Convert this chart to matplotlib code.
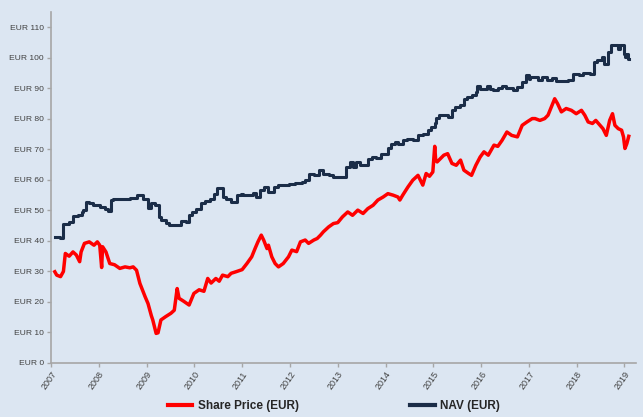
import matplotlib
matplotlib.use("Agg")
import matplotlib.pyplot as plt
from matplotlib import font_manager

# ---------------- data ----------------
nav_dates = [2007.08, 2007.18, 2007.25, 2007.38, 2007.46, 2007.56, 2007.64, 2007.68, 2007.73, 2007.80,
             2007.88, 2008.03, 2008.12, 2008.20, 2008.25, 2008.30, 2008.65, 2008.79, 2008.93, 2009.03,
             2009.09, 2009.18, 2009.25, 2009.30, 2009.40, 2009.47, 2009.72, 2009.82, 2009.89, 2009.96,
             2010.03, 2010.14, 2010.22, 2010.33, 2010.41, 2010.48, 2010.59, 2010.67, 2010.77, 2010.90,
             2010.97, 2011.02, 2011.22, 2011.30, 2011.37, 2011.45, 2011.55, 2011.66, 2011.75, 2011.97,
             2012.10, 2012.25, 2012.32, 2012.39, 2012.50, 2012.61, 2012.70, 2012.81, 2012.90, 2013.17,
             2013.25, 2013.31, 2013.38, 2013.46, 2013.63, 2013.72, 2013.80, 2013.90, 2014.05, 2014.11,
             2014.20, 2014.27, 2014.36, 2014.45, 2014.57, 2014.68, 2014.78, 2014.89, 2014.96, 2015.03,
             2015.06, 2015.12, 2015.30, 2015.39, 2015.45, 2015.55, 2015.64, 2015.70, 2015.81, 2015.89,
             2015.92, 2015.98, 2016.12, 2016.18, 2016.25, 2016.36, 2016.43, 2016.53, 2016.66, 2016.76,
             2016.85, 2016.93, 2017.00, 2017.02, 2017.19, 2017.27, 2017.38, 2017.48, 2017.57, 2017.82,
             2017.92, 2018.05, 2018.13, 2018.28, 2018.37, 2018.43, 2018.52, 2018.58, 2018.65, 2018.72,
             2018.86, 2018.90, 2018.98, 2019.02, 2019.05, 2019.08, 2019.10]
nav_values = [41.2, 40.9, 45.7, 46.2, 48.1, 48.4, 49.5, 50.1, 52.8, 52.3,
              51.7, 51.2, 50.6, 49.9, 53.4, 53.7, 54.2, 55.0, 53.9, 50.7,
              52.5, 51.7, 47.9, 46.8, 45.9, 45.2, 46.6, 46.2, 48.4, 49.5,
              50.6, 52.5, 53.1, 53.9, 55.5, 57.2, 54.4, 53.9, 52.8, 55.0,
              55.3, 55.0, 55.7, 54.4, 56.6, 57.7, 56.1, 57.7, 58.3, 58.8,
              59.0, 59.3, 59.9, 62.1, 61.5, 63.2, 62.1, 61.5, 61.0, 64.3,
              65.9, 64.3, 65.9, 65.0, 67.0, 67.5, 67.2, 68.6, 70.3, 71.9,
              72.5, 71.9, 73.0, 73.5, 73.2, 74.6, 75.2, 76.3, 77.4, 78.5,
              80.4, 81.2, 80.6, 82.8, 83.9, 84.7, 86.6, 87.2, 87.7, 88.8,
              90.8, 89.9, 90.8, 89.8, 89.4, 90.0, 90.8, 90.2, 89.6, 90.5,
              92.1, 94.3, 93.2, 93.7, 92.9, 93.7, 92.9, 93.5, 92.4, 92.9,
              94.6, 94.3, 95.0, 94.8, 98.6, 99.2, 100.3, 98.1, 102.0, 104.1,
              103.0, 104.1, 101.4, 100.3, 101.4, 99.5, 99.5]

sp_dates = [2007.08, 2007.12, 2007.20, 2007.26, 2007.30, 2007.38, 2007.46, 2007.53, 2007.60, 2007.63,
            2007.70, 2007.80, 2007.90, 2007.97, 2008.02, 2008.06, 2008.08, 2008.15, 2008.23, 2008.33,
            2008.44, 2008.55, 2008.65, 2008.72, 2008.79, 2008.86, 2008.97, 2009.03, 2009.10, 2009.13,
            2009.20, 2009.24, 2009.30, 2009.40, 2009.51, 2009.58, 2009.64, 2009.68, 2009.78, 2009.89,
            2009.99, 2010.10, 2010.20, 2010.28, 2010.35, 2010.45, 2010.52, 2010.59, 2010.70, 2010.77,
            2010.87, 2011.00, 2011.10, 2011.20, 2011.27, 2011.33, 2011.40, 2011.45, 2011.52, 2011.55,
            2011.62, 2011.69, 2011.76, 2011.86, 2011.97, 2012.04, 2012.14, 2012.22, 2012.32, 2012.39,
            2012.50, 2012.57, 2012.64, 2012.70, 2012.81, 2012.91, 2013.00, 2013.10, 2013.21, 2013.31,
            2013.42, 2013.53, 2013.63, 2013.74, 2013.84, 2013.95, 2014.05, 2014.16, 2014.26, 2014.30,
            2014.36, 2014.47, 2014.57, 2014.68, 2014.78, 2014.85, 2014.92, 2014.99, 2015.03, 2015.05,
            2015.08, 2015.15, 2015.22, 2015.30, 2015.39, 2015.48, 2015.57, 2015.64, 2015.74, 2015.80,
            2015.89, 2015.98, 2016.06, 2016.15, 2016.27, 2016.35, 2016.44, 2016.54, 2016.64, 2016.76,
            2016.86, 2016.96, 2017.07, 2017.13, 2017.23, 2017.33, 2017.40, 2017.47, 2017.54, 2017.60,
            2017.68, 2017.78, 2017.89, 2017.99, 2018.10, 2018.17, 2018.24, 2018.33, 2018.40, 2018.49,
            2018.55, 2018.62, 2018.69, 2018.75, 2018.80, 2018.87, 2018.94, 2018.98, 2019.01, 2019.05,
            2019.09]
sp_values = [29.9, 28.8, 28.3, 30.0, 35.9, 35.0, 36.4, 35.4, 33.2, 36.4,
             39.2, 39.7, 38.6, 39.7, 38.6, 31.3, 38.1, 36.4, 32.6, 32.2,
             31.0, 31.5, 31.2, 31.5, 30.4, 26.1, 21.7, 19.5, 15.5, 14.1,
             9.7, 9.9, 14.1, 15.2, 16.3, 17.3, 24.4, 21.2, 20.2, 19.0,
             22.8, 24.0, 23.5, 27.7, 26.2, 27.7, 26.8, 28.8, 28.3, 29.4,
             29.9, 30.6, 32.6, 34.8, 37.5, 39.7, 41.9, 40.3, 37.5, 38.6,
             34.8, 32.6, 31.5, 32.6, 34.8, 37.0, 36.5, 39.7, 40.3, 39.2,
             40.3, 40.8, 41.9, 43.0, 44.6, 45.7, 46.0, 47.9, 49.5, 48.4,
             50.1, 49.0, 50.6, 51.7, 53.4, 54.4, 55.5, 55.0, 54.4, 53.4,
             55.0, 57.7, 59.9, 61.5, 58.3, 62.1, 61.2, 62.6, 71.0, 66.5,
             65.9, 67.0, 68.1, 68.6, 65.4, 64.8, 66.5, 63.2, 62.1, 61.5,
             64.8, 67.5, 69.2, 68.1, 71.4, 71.0, 73.0, 75.7, 74.6, 74.1,
             77.9, 79.0, 80.1, 80.1, 79.5, 80.1, 81.2, 83.9, 86.6, 85.0,
             82.3, 83.4, 82.8, 81.7, 82.8, 81.2, 79.0, 78.5, 79.5, 77.9,
             76.8, 74.6, 79.5, 81.7, 77.9, 76.8, 76.3, 74.1, 70.3, 71.9,
             74.3]

year_ticks = list(range(2007, 2020))
y_ticks = list(range(0, 111, 10))
y_labels = [f"EUR {v}" for v in y_ticks]
series_labels = ["Share Price (EUR)", "NAV (EUR)"]

# ---------------- fonts ----------------
names = {f.name for f in font_manager.fontManager.ttflist}
if "Liberation Sans Narrow" in names:
    fam = ["Liberation Sans Narrow", "DejaVu Sans"]
    ytick_fs, xtick_fs, leg_fs = 7, 7, 10
else:
    fam = ["Liberation Sans", "DejaVu Sans"]
    ytick_fs, xtick_fs, leg_fs = 6.1, 6.5, 8.5
plt.rcParams["font.family"] = fam

bg = "#dce6f2"
fig = plt.figure(figsize=(6.43, 4.17), dpi=100, facecolor=bg)
ax = fig.add_axes([0.0793, 0.1295, 0.9097, 0.8415], facecolor=bg)

ax.plot(sp_dates, sp_values, color="#ff0000", lw=2.5, label=series_labels[0], solid_joinstyle="round")
ax.plot(nav_dates, nav_values, color="#1b2d48", lw=2.2, drawstyle="steps-post", label=series_labels[1])

ax.set_xlim(2007.0, 2019.24)
ax.set_ylim(0, 115)
ax.set_xticks(year_ticks)
ax.set_xticklabels([str(y) for y in year_ticks], rotation=55, ha="right",
                   rotation_mode="anchor", fontsize=xtick_fs, color="#404040")
ax.set_yticks(y_ticks)
ax.set_yticklabels(y_labels, fontsize=ytick_fs, color="#404040")

for s in ["top", "right"]:
    ax.spines[s].set_visible(False)
for s in ["left", "bottom"]:
    ax.spines[s].set_color("#a6a6a6")
    ax.spines[s].set_linewidth(1.2)
ax.tick_params(axis="both", direction="out", length=3, width=1, color="#a6a6a6", pad=2)

leg = fig.legend(loc="center", bbox_to_anchor=(0.519, 0.026), ncol=2, frameon=False,
                 handlelength=2.1, columnspacing=9.4, handletextpad=0.45,
                 prop={"weight": "bold", "size": leg_fs})
for t in leg.get_texts():
    t.set_color("#262626")
for h in leg.legend_handles:
    h.set_linewidth(3)

fig.savefig("out.png", dpi=100, facecolor=bg)
